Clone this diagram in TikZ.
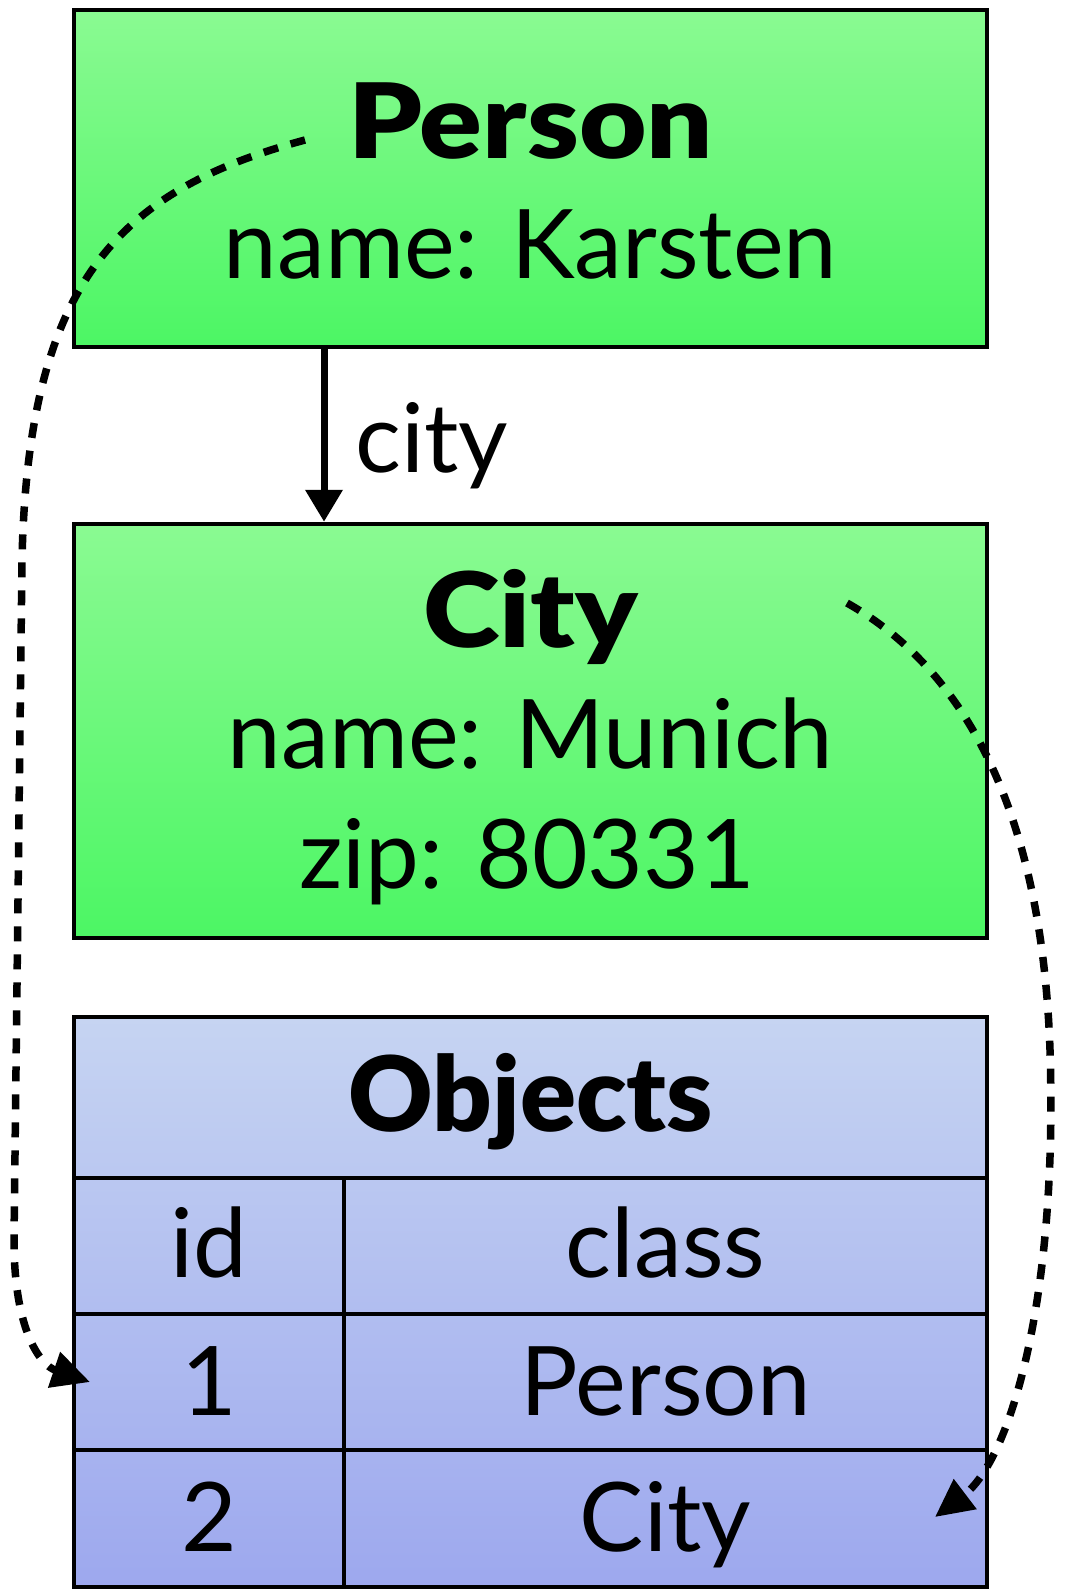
\documentclass[tikz,border=0pt]{standalone}
\usepackage{fontspec}
\setmainfont{Lato}
\newfontfamily\heavyfont{Lato Black}[FakeStretch=1.12]
\newfontfamily\heavynarrow{Lato Black}
\usetikzlibrary{arrows.meta,shadings}

\definecolor{greenTop}{RGB}{138,250,146}
\definecolor{greenBot}{RGB}{76,246,100}
\definecolor{blueTop}{RGB}{198,212,242}
\definecolor{blueBot}{RGB}{157,168,238}

\begin{document}
\begin{tikzpicture}[x=1pt,y=-1pt,
  classbox/.style={rectangle, draw=black, line width=4.5pt, inner sep=0pt,
                   top color=greenTop, bottom color=greenBot,
                   minimum width=913pt},
  tablebox/.style={rectangle, draw=black, line width=4.5pt, inner sep=0pt,
                   top color=blueTop, bottom color=blueBot,
                   minimum width=913pt, minimum height=570pt},
  gridline/.style={line width=4.5pt},
  txt/.style={anchor=base, inner sep=0pt, font=\fontsize{96}{110}\selectfont},
  heavy/.style={anchor=base, inner sep=0pt, font=\fontsize{104}{120}\heavyfont},
  tabletitle/.style={anchor=base, inner sep=0pt, font=\fontsize{104}{120}\heavynarrow},
  refline/.style={line width=7.5pt, dash pattern=on 15pt off 13pt,
                  -{Triangle[length=38pt,width=36pt]}},
  assoc/.style={line width=7pt, -{Triangle[length=32pt,width=36pt]}}
]
\useasboundingbox (0,0) rectangle (1066,1595);

% Person object
\node[classbox, minimum height=337pt] (person) at (530.5,178.5) {};
\node[heavy] (personTitle) at (530.5,158) {Person};
\node[txt] (personName) at (530.5,278) {name: Karsten};

% City object
\node[classbox, minimum height=414pt] (city) at (530.5,731) {};
\node[heavy] (cityTitle) at (530.5,647) {City};
\node[txt] (cityName) at (530.5,768) {name: Munich};
\node[txt] (cityZip) at (527,888) {zip: 80331};

% association Person -> City
\coordinate (assocX) at (324,0);
\draw[assoc] (person.south -| assocX) -- (city.north -| assocX);
\node[txt, anchor=base west] (assocLabel) at (355,472) {city};

% Objects table
\node[tablebox] (objects) at (530.5,1302) {};
\draw[gridline] (74,1178) -- (987,1178);
\draw[gridline] (74,1314) -- (987,1314);
\draw[gridline] (74,1450) -- (987,1450);
\draw[gridline] (344,1178) -- (344,1587);
\node[tabletitle] (objTitle) at (530.5,1131) {Objects};
\node[txt] (hId) at (209,1277) {id};
\node[txt] (hClass) at (665.5,1277) {class};
\node[txt] (id1) at (209,1415) {1};
\node[txt] (cls1) at (665.5,1415) {Person};
\node[txt] (id2) at (209,1551) {2};
\node[txt] (cls2) at (665.5,1551) {City};

% identity references from objects to table rows
\coordinate (personRef) at (305,140);
\coordinate (row1Tip) at (90,1382);
\coordinate (cityRef) at (847,603);
\coordinate (row2Tip) at (935,1517);

\draw[refline] (personRef)
  .. controls (120,190) and (28,280) .. (22,560)
  -- (14,1240)
  .. controls (14,1330) and (40,1365) .. (row1Tip);

\draw[refline] (cityRef)
  .. controls (930,650) and (1040,760) .. (1050,1050)
  .. controls (1058,1300) and (1010,1460) .. (row2Tip);
\end{tikzpicture}
\end{document}
